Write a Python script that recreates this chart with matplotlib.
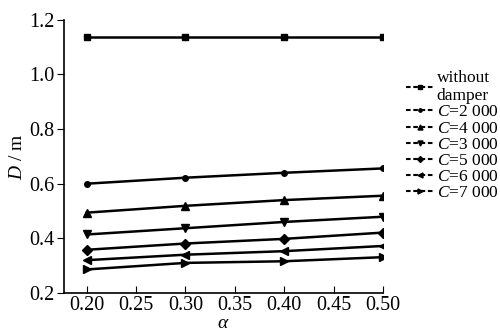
import matplotlib
matplotlib.use("Agg")
import matplotlib.pyplot as plt
from matplotlib.lines import Line2D

plt.rcParams['font.family'] = ['Liberation Serif', 'DejaVu Serif']
plt.rcParams['mathtext.fontset'] = 'custom'
plt.rcParams['mathtext.rm'] = 'Liberation Serif'
plt.rcParams['mathtext.it'] = 'Liberation Serif:italic'

alpha = [0.20, 0.30, 0.40, 0.50]
without_damper = [1.136, 1.136, 1.136, 1.136]
c2000 = [0.600, 0.622, 0.640, 0.656]
c4000 = [0.494, 0.519, 0.540, 0.556]
c3000 = [0.414, 0.437, 0.460, 0.479]
c5000 = [0.358, 0.381, 0.398, 0.421]
c6000 = [0.320, 0.340, 0.353, 0.372]
c7000 = [0.286, 0.310, 0.316, 0.331]

series = [
    (without_damper, 's', 'without\ndamper'),
    (c2000, 'o', '$C$=2 000'),
    (c4000, '^', '$C$=4 000'),
    (c3000, 'v', '$C$=3 000'),
    (c5000, 'D', '$C$=5 000'),
    (c6000, '<', '$C$=6 000'),
    (c7000, '>', '$C$=7 000'),
]

fig = plt.figure(figsize=(5, 3.31), dpi=100)
ax = fig.add_axes([0.128, 0.115, 0.638, 0.825])

handles = []
for vals, mk, lab in series:
    ms = 4 if mk in ('s', 'o') else 6
    if mk == 'D':
        ms = 5
    ax.plot(alpha, vals, color='black', lw=1.8, marker=mk, ms=ms)
    # legend proxy: short dashes with the marker in the middle
    handles.append(Line2D([], [], color='black', lw=1.5, ls=(0, (2.2, 1.3)),
                          marker=mk, ms=ms * 0.6, label=lab))

ax.set_xlim(0.177, 0.50)
ax.set_ylim(0.2, 1.2)
ax.set_xticks([0.20, 0.25, 0.30, 0.35, 0.40, 0.45, 0.50])
ax.set_xticklabels(['0.20', '0.25', '0.30', '0.35', '0.40', '0.45', '0.50'])
ax.set_yticks([0.2, 0.4, 0.6, 0.8, 1.0, 1.2])
ax.set_yticklabels(['0.2', '0.4', '0.6', '0.8', '1.0', '1.2'])
ax.tick_params(axis='x', direction='in', length=5, labelsize=14.5, pad=2)
ax.tick_params(axis='y', direction='out', length=5, labelsize=14.5, pad=2)
ax.spines['top'].set_visible(False)
ax.spines['right'].set_visible(False)
ax.spines['left'].set_linewidth(1.2)
ax.spines['bottom'].set_linewidth(1.2)
ax.set_xlabel(r'$\alpha$', fontsize=14, labelpad=0)
ax.set_ylabel('$D$ / m', fontsize=14, labelpad=2)

fig.legend(handles=handles, loc='upper left', bbox_to_anchor=(0.795, 0.815),
           frameon=False, fontsize=12.5, handlelength=1.6, handletextpad=0.15,
           labelspacing=0.0, borderpad=0)

fig.savefig('out.png', dpi=100)
